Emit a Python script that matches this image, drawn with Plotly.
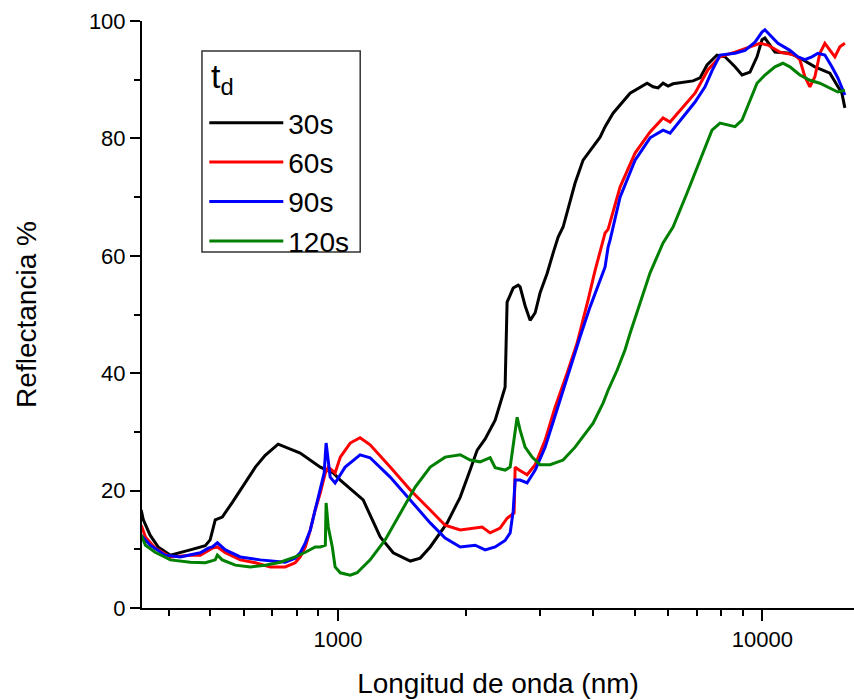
import plotly.graph_objects as go

# Reflectance spectra (wavelength in nm, reflectance in %) for each deposition time
wl_30s = [344, 348, 361, 377, 403, 425, 449, 487, 500, 514, 534, 564, 605, 639, 674, 723,
          815, 909, 975, 1013, 1147, 1258, 1350, 1481, 1563, 1650, 1809, 1942, 2049, 2129,
          2223, 2347, 2477, 2504, 2588, 2659, 2687, 2761, 2837, 2916, 2995, 3111, 3215, 3303,
          3393, 3525, 3621, 3782, 4147, 4261, 4450, 4880, 5352, 5529, 5681, 5836, 5997, 6161,
          6866, 7132, 7408, 7820, 8166, 8624, 8957, 9353, 9715, 9982, 10142, 10707, 11614,
          12260, 13300, 14427, 14825, 15399, 15650]
r_30s = [16.7, 15.0, 12.4, 10.4, 9.0, 9.4, 9.9, 10.6, 11.6, 15.0, 15.5, 18.0, 21.3, 24.0, 26.0, 27.9,
         26.4, 24.0, 23.0, 21.8, 18.4, 12.1, 9.4, 8.0, 8.5, 10.4, 14.5, 18.9, 23.5, 26.9,
         28.8, 32.0, 37.6, 52.1, 54.5, 55.0, 54.7, 51.5, 49.0, 50.3, 53.7, 57.0, 60.5, 63.2,
         64.9, 69.5, 72.4, 76.3, 80.2, 82.0, 84.3, 87.7, 89.4, 88.8, 88.6, 89.4, 88.9, 89.3,
         89.8, 90.3, 92.5, 94.2, 93.9, 92.2, 90.8, 91.3, 93.9, 96.8, 97.1, 94.7, 94.5,
         93.7, 92.2, 91.1, 89.6, 87.7, 85.2]

wl_60s = [344, 352, 371, 403, 449, 474, 506, 520, 543, 589, 639, 693, 751, 793, 815, 838, 861,
          884, 909, 934, 949, 970, 985, 1013, 1069, 1128, 1191, 1328, 1481, 1650, 1789, 1942,
          2106, 2187, 2284, 2411, 2504, 2601, 2616, 2673, 2791, 2916, 3078, 3249, 3467, 3660,
          3886, 4036, 4261, 4331, 4622, 5014, 5439, 5836, 6062, 6399, 6941, 7447, 7949, 8624,
          9353, 9874, 10309, 11000, 11933, 12260, 12597, 12944, 13300, 13664, 14040, 14427,
          14825, 15230, 15650]
r_60s = [14.1, 12.1, 10.2, 8.7, 9.0, 9.0, 10.2, 10.4, 9.4, 8.2, 7.7, 7.0, 7.0, 7.7, 8.7, 10.4, 13.3,
         16.7, 19.6, 23.0, 24.0, 23.5, 23.0, 25.7, 28.1, 29.0, 27.8, 24.0, 20.1, 16.7, 14.1, 13.3,
         13.6, 13.8, 12.8, 13.6, 15.3, 16.2, 24.0, 23.5, 22.7, 24.4, 28.6, 34.2, 40.0, 45.1,
         52.5, 57.5, 63.9, 64.5, 71.7, 77.5, 81.1, 83.5, 82.8, 84.8, 87.7, 91.7, 93.9, 94.7,
         95.6, 96.2, 95.9, 94.7, 94.2, 93.4, 90.5, 88.8, 90.5, 94.5, 96.2, 95.0,
         93.9, 95.6, 96.2]

wl_90s = [344, 361, 392, 425, 474, 495, 506, 520, 543, 589, 656, 751, 793, 815, 838, 861, 884,
          909, 928, 938, 949, 959, 985, 1040, 1128, 1191, 1328, 1481, 1650, 1789, 1942, 2106,
          2223, 2347, 2477, 2546, 2588, 2616, 2687, 2791, 2916, 3078, 3338, 3525, 3721, 3928,
          4261, 4331, 4379, 4622, 5014, 5439, 5836, 6062, 6399, 6941, 7328, 7610, 7949, 8624,
          9103, 9611, 9982, 10142, 10421, 10882, 11614, 12128, 12597, 13085, 13517, 14040,
          14584, 15066, 15650]
r_90s = [12.4, 10.7, 9.0, 8.7, 9.4, 10.2, 10.4, 11.1, 9.9, 8.7, 8.2, 7.8, 8.5, 9.4, 11.1, 13.3, 16.7,
         20.6, 23.0, 28.1, 24.7, 22.3, 21.3, 24.0, 26.1, 25.6, 22.3, 18.4, 14.5, 11.9, 10.4, 10.7,
         9.9, 10.4, 11.5, 12.8, 16.5, 21.8, 21.8, 21.3, 23.5, 27.4, 35.4, 41.1, 46.2, 51.3,
         58.1, 61.5, 62.7, 70.0, 76.3, 80.1, 81.4, 80.9, 83.1, 86.2, 88.8, 91.5, 94.2, 94.5,
         95.0, 96.4, 98.1, 98.5, 97.6, 96.2, 95.0, 93.9, 93.4, 93.9, 94.5, 94.2,
         92.2, 90.3, 87.4]

wl_120s = [344, 352, 371, 403, 449, 487, 514, 520, 534, 573, 622, 674, 731, 793, 838, 884, 909,
           934, 938, 949, 970, 985, 1013, 1069, 1110, 1191, 1292, 1402, 1521, 1650, 1789, 1942,
           2049, 2163, 2284, 2347, 2477, 2546, 2588, 2644, 2687, 2761, 2868, 2995, 3162, 3393,
           3621, 3721, 3993, 4215, 4331, 4548, 4749, 4880, 5151, 5439, 5836, 6161, 6647, 7132,
           7610, 7949, 8624, 8957, 9353, 9715, 10142, 10707, 11181, 11614, 12260, 12944, 13664,
           14427, 15066, 15650]
r_120s = [12.4, 10.7, 9.5, 8.2, 7.8, 7.7, 8.2, 9.0, 8.2, 7.3, 7.0, 7.3, 7.8, 8.7, 9.5, 10.4, 10.4,
          10.7, 17.9, 13.8, 10.4, 7.0, 6.0, 5.6, 6.0, 8.2, 11.6, 16.2, 20.6, 24.0, 25.7, 26.1,
          25.2, 24.9, 25.6, 23.9, 23.5, 24.0, 27.4, 32.5, 30.3, 27.4, 25.7, 24.4, 24.4, 25.2,
          27.4, 28.6, 31.5, 34.9, 37.1, 40.5, 44.0, 46.8, 52.0, 57.1, 62.2, 64.9, 70.7, 76.3,
          81.4, 82.6, 82.0, 83.1, 86.5, 89.4, 90.8, 92.2, 92.8, 92.2, 90.8, 89.9, 89.4,
          88.6, 87.9, 88.2]

series = [
    ("30s", wl_30s, r_30s, "#000000"),
    ("60s", wl_60s, r_60s, "#ff0000"),
    ("90s", wl_90s, r_90s, "#0000ff"),
    ("120s", wl_120s, r_120s, "#008000"),
]

x_major = [1000, 10000]
x_minor = [400, 500, 600, 700, 800, 900, 2000, 3000, 4000, 5000, 6000, 7000, 8000, 9000]
y_major = [0, 20, 40, 60, 80, 100]

FONT = "Liberation Sans, Arial, sans-serif"

# plot-area geometry in pixels, used to place the legend frame and heading
PLOT_L, PLOT_W, PLOT_B, PLOT_H = 141.7, 712.3, 608.0, 587.0


def px_x(px):
    return (px - PLOT_L) / PLOT_W


def px_y(py):
    return (PLOT_B - py) / PLOT_H


fig = go.Figure()
for name, wl, r, color in series:
    fig.add_trace(go.Scatter(x=wl, y=r, mode="lines", name=name,
                             line=dict(color=color, width=3)))

# frame around the legend
fig.add_shape(type="rect", xref="paper", yref="paper",
              x0=px_x(201.7), x1=px_x(360), y0=px_y(252), y1=px_y(51),
              line=dict(color="#333333", width=1.5), fillcolor="rgba(0,0,0,0)", layer="above")

# legend heading
fig.add_annotation(text="t<sub>d</sub>", xref="paper", yref="paper",
                   x=px_x(209), y=px_y(55), xanchor="left", yanchor="top",
                   showarrow=False, font=dict(family=FONT, size=34, color="black"))

fig.update_layout(
    width=854, height=700,
    margin=dict(l=142, r=0, t=21, b=92),
    paper_bgcolor="white", plot_bgcolor="white",
    font=dict(family=FONT, color="black"),
    showlegend=True,
    legend=dict(
        x=0.0875, y=px_y(98), xanchor="left", yanchor="top",
        borderwidth=0, bgcolor="rgba(0,0,0,0)",
        font=dict(family=FONT, size=28, color="black"),
        itemwidth=74, tracegroupgap=0,
    ),
    xaxis=dict(
        type="log", range=[2.5384, 4.216],
        showline=True, linecolor="black", linewidth=2,
        showgrid=False, zeroline=False,
        ticks="outside", ticklen=11, tickwidth=2, tickcolor="black",
        tickmode="array", tickvals=x_major, ticktext=[str(v) for v in x_major],
        tickfont=dict(family=FONT, size=22, color="black"),
        minor=dict(tickmode="array", tickvals=x_minor, ticks="outside",
                   ticklen=6, tickwidth=2, tickcolor="black", showgrid=False),
        title=dict(text="Longitud de onda (nm)", standoff=22,
                   font=dict(family=FONT, size=28, color="black")),
        automargin=False,
    ),
    yaxis=dict(
        range=[0, 100],
        showline=True, linecolor="black", linewidth=2,
        showgrid=False, zeroline=False,
        ticks="outside", ticklen=10, tickwidth=2, tickcolor="black",
        tickmode="array", tickvals=y_major,
        tickfont=dict(family=FONT, size=22, color="black"),
        minor=dict(dtick=10, ticks="outside", ticklen=6, tickwidth=2,
                   tickcolor="black", showgrid=False),
        title=dict(text="Reflectancia %", standoff=44,
                   font=dict(family=FONT, size=28, color="black")),
        automargin=False,
    ),
)

fig.write_html("out.html")
